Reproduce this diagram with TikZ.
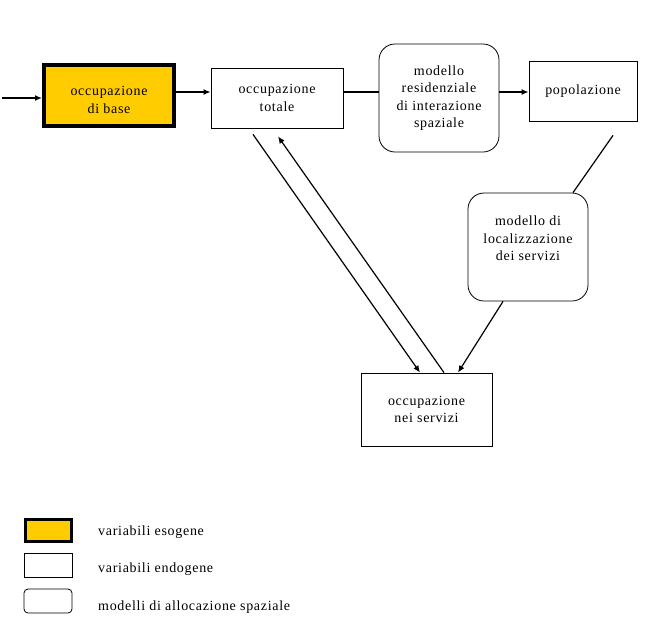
\documentclass[tikz,border=0pt]{standalone}
\usepackage{fontspec}
\setmainfont[LetterSpace=5]{Liberation Serif}
\usetikzlibrary{arrows.meta}
\definecolor{gold}{HTML}{FFCC00}
\begin{document}
\begin{tikzpicture}[x=1pt,y=-1pt,
  every node/.style={font=\fontsize{14}{17.5}\selectfont, inner sep=0pt, align=center},
  box/.style={draw, line width=0.8pt, fill=white},
  exo/.style={draw, line width=4pt, fill=gold},
  model/.style={draw, line width=0.8pt, rounded corners=16pt, fill=white},
  arr/.style={line width=1.6pt, -{Latex[length=7pt,width=6pt]}},
  plain/.style={line width=1.6pt},
  darr/.style={line width=1.2pt, -{Latex[length=7pt,width=6pt]}},
  dline/.style={line width=1.2pt},
  legtext/.style={anchor=west}
]
\useasboundingbox (0,0) rectangle (663,638);
% main nodes
\node[exo, minimum width=130pt, minimum height=61pt] (base) at (109,95.5) {\rule{0pt}{18pt}occupazione\\di base};
\node[box, minimum width=132pt, minimum height=60pt] (totale) at (277,98) {occupazione\\totale};
\node[model, minimum width=120pt, minimum height=108pt] (resid) at (439,98) {modello\\residenziale\\di interazione\\spaziale};
\node[box, minimum width=108pt, minimum height=60pt] (pop) at (583,91) {popolazione};
\node[model, minimum width=120pt, minimum height=108pt] (loc) at (528,247) {modello di\\localizzazione\\dei servizi\\\mbox{}};
\node[box, minimum width=131pt, minimum height=73pt] (serv) at (426.5,409.5) {occupazione\\nei servizi};
% connectors
\coordinate (in) at (2,98);
\draw[arr] (in) -- (in -| base.west);
\draw[arr] (base.east |- 0,92) -- (totale.west |- 0,92);
\draw[plain] (totale.east |- 0,92) -- (resid.west |- 0,92);
\draw[arr] (resid.east |- 0,92) -- (pop.west |- 0,92);
\draw[dline] ([xshift=30pt,yshift=-14pt]pop.south) -- ([xshift=45pt]loc.north);
\draw[darr] ([xshift=-25pt]loc.south) -- ([xshift=31.5pt]serv.north);
\draw[darr] ([xshift=-24pt,yshift=-6pt]totale.south) -- ([xshift=-6.5pt]serv.north);
\draw[darr] ([xshift=17.5pt]serv.north) -- ([xshift=1pt,yshift=-8pt]totale.south);
% legend
\node[exo, line width=3pt, minimum width=46pt, minimum height=22pt] (leg1) at (48,530) {};
\node[box, minimum width=48pt, minimum height=24pt] (leg2) at (48,565) {};
\node[box, rounded corners=4pt, minimum width=48pt, minimum height=24pt] (leg3) at (48,601) {};
\node[legtext] (t1) at (98,532) {variabili esogene};
\node[legtext] (t2) at (98,569) {variabili endogene};
\node[legtext] (t3) at (98,607) {modelli di allocazione spaziale};
\end{tikzpicture}
\end{document}
